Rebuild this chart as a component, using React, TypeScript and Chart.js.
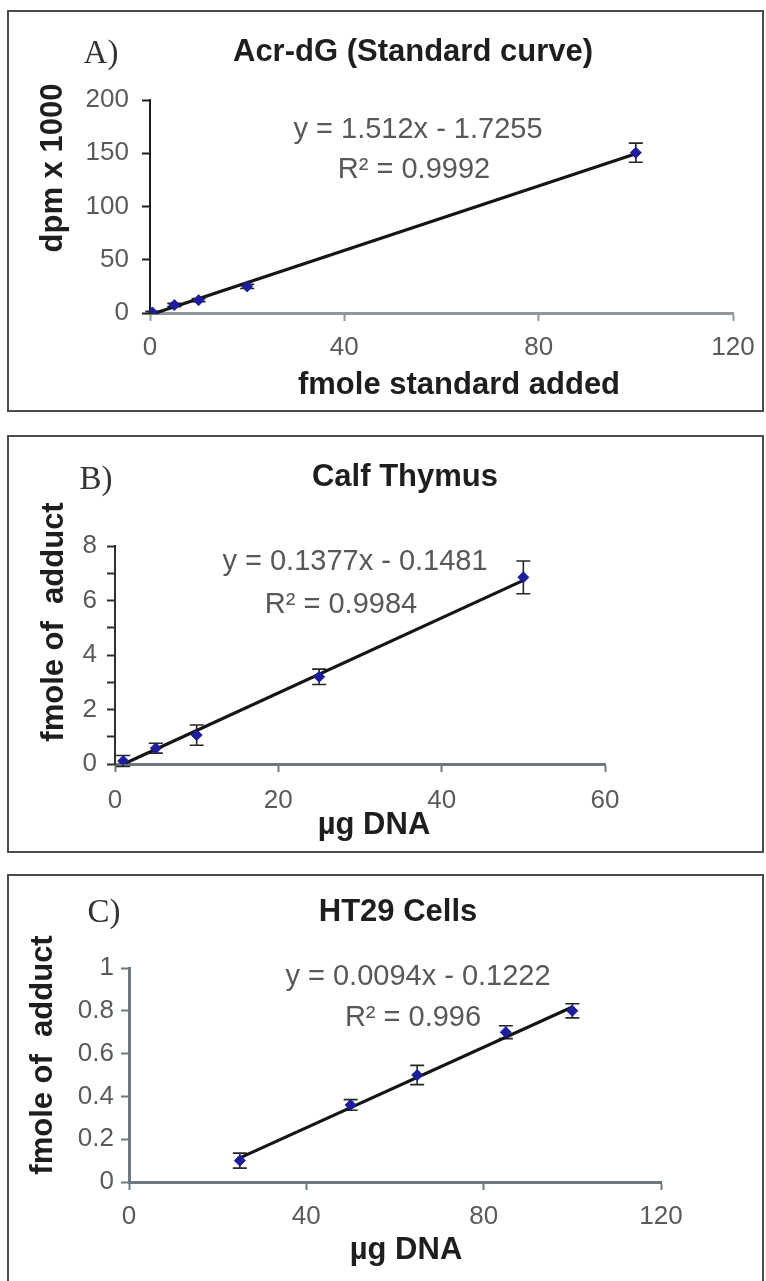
import React, { useEffect, useRef } from "react";
import { Chart, registerables } from "chart.js";
Chart.register(...registerables);

// ---------- Panel A ----------
const A_LETTER = "A)";
const A_TITLE = "Acr-dG (Standard curve)";
const A_X_TITLE = "fmole standard added";
const A_Y_TITLE = "dpm x 1000";
const A_X = [0.5, 5, 10, 20, 100];
const A_Y = [0.5, 7.5, 12, 25, 150.5];
const A_ERR = [1, 1.5, 1.5, 2, 9];
const A_SLOPE = 1.512;
const A_INTERCEPT = -1.7255;
const A_EQ = "y = 1.512x - 1.7255";
const A_R2 = "R² = 0.9992";
const A_X_TICKS = [0, 40, 80, 120];
const A_Y_TICKS = [0, 50, 100, 150, 200];
const A_Y_LABELS = [0, 50, 100, 150, 200];

// ---------- Panel B ----------
const B_LETTER = "B)";
const B_TITLE = "Calf Thymus";
const B_X_TITLE = "µg DNA";
const B_Y_TITLE = "fmole of  adduct";
const B_X = [1, 5, 10, 25, 50];
const B_Y = [0.11, 0.58, 1.06, 3.2, 6.85];
const B_ERR = [0.2, 0.18, 0.37, 0.28, 0.6];
const B_SLOPE = 0.1377;
const B_INTERCEPT = -0.1481;
const B_EQ = "y = 0.1377x - 0.1481";
const B_R2 = "R² = 0.9984";
const B_X_TICKS = [0, 20, 40, 60];
const B_Y_TICKS = [0, 1, 2, 3, 4, 5, 6, 7, 8];
const B_Y_LABELS = [0, 2, 4, 6, 8];

// ---------- Panel C ----------
const C_LETTER = "C)";
const C_TITLE = "HT29 Cells";
const C_X_TITLE = "µg DNA";
const C_Y_TITLE = "fmole of  adduct";
const C_X = [25, 50, 65, 85, 100];
const C_Y = [0.1, 0.36, 0.5, 0.7, 0.8];
const C_ERR = [0.035, 0.025, 0.045, 0.03, 0.033];
const C_SLOPE = 0.0094;
const C_INTERCEPT = -0.1222;
const C_EQ = "y = 0.0094x - 0.1222";
const C_R2 = "R² = 0.996";
const C_X_TICKS = [0, 40, 80, 120];
const C_Y_TICKS = [0, 0.2, 0.4, 0.6, 0.8, 1];
const C_Y_LABELS = [0, 0.2, 0.4, 0.6, 0.8, 1];

const SANS = "'Liberation Sans', Arial, sans-serif";
const SERIF = "'Liberation Serif', 'Times New Roman', serif";
const W = 766;

type Txt = { t: string; x: number; y: number; font: string; color: string; rot?: boolean };

type PanelDef = {
  top: number;
  height: number;
  area: { left: number; right: number; top: number; bottom: number };
  xs: number[];
  ys: number[];
  errs: number[];
  slope: number;
  intercept: number;
  xTicks: number[];
  yTicks: number[];
  yLabels: number[];
  xTickPad: number;
  yTickPad: number;
  xColor: string;
  xWidth: number;
  yColor: string;
  yWidth: number;
  texts: Txt[];
  borderBottom: boolean;
};

const TITLE_FONT = `bold 31px ${SANS}`;
const AXIS_FONT = `bold 31px ${SANS}`;
const EQ_FONT = `29px ${SANS}`;
const LETTER_FONT = `33px ${SERIF}`;
const DARK = "#1e1e1e";
const EQ_COLOR = "#585858";

const PANELS: PanelDef[] = [
  {
    top: 10,
    height: 402,
    area: { left: 150, right: 733, top: 90, bottom: 303 },
    xs: A_X, ys: A_Y, errs: A_ERR, slope: A_SLOPE, intercept: A_INTERCEPT,
    xTicks: A_X_TICKS, yTicks: A_Y_TICKS, yLabels: A_Y_LABELS,
    xTickPad: 11, yTickPad: 13,
    xColor: "#8e979c", xWidth: 3, yColor: "#1e1e1e", yWidth: 2,
    texts: [
      { t: A_LETTER, x: 101, y: 44, font: LETTER_FONT, color: "#333" },
      { t: A_TITLE, x: 413, y: 42, font: TITLE_FONT, color: DARK },
      { t: A_EQ, x: 418, y: 120, font: EQ_FONT, color: EQ_COLOR },
      { t: A_R2, x: 414, y: 160, font: EQ_FONT, color: EQ_COLOR },
      { t: A_Y_TITLE, x: 53, y: 158, font: AXIS_FONT, color: DARK, rot: true },
      { t: A_X_TITLE, x: 459, y: 375, font: AXIS_FONT, color: DARK },
    ],
    borderBottom: true,
  },
  {
    top: 435,
    height: 418,
    area: { left: 115, right: 605, top: 111, bottom: 329 },
    xs: B_X, ys: B_Y, errs: B_ERR, slope: B_SLOPE, intercept: B_INTERCEPT,
    xTicks: B_X_TICKS, yTicks: B_Y_TICKS, yLabels: B_Y_LABELS,
    xTickPad: 13, yTickPad: 10,
    xColor: "#6f777c", xWidth: 3, yColor: "#2f2f2f", yWidth: 2,
    texts: [
      { t: B_LETTER, x: 96, y: 45, font: LETTER_FONT, color: "#333" },
      { t: B_TITLE, x: 405, y: 42, font: TITLE_FONT, color: DARK },
      { t: B_EQ, x: 355, y: 127, font: EQ_FONT, color: EQ_COLOR },
      { t: B_R2, x: 341, y: 170, font: EQ_FONT, color: EQ_COLOR },
      { t: B_Y_TITLE, x: 54, y: 187, font: AXIS_FONT, color: DARK, rot: true },
      { t: B_X_TITLE, x: 374, y: 390, font: AXIS_FONT, color: DARK },
    ],
    borderBottom: true,
  },
  {
    top: 874,
    height: 407,
    area: { left: 129, right: 661, top: 94, bottom: 308 },
    xs: C_X, ys: C_Y, errs: C_ERR, slope: C_SLOPE, intercept: C_INTERCEPT,
    xTicks: C_X_TICKS, yTicks: C_Y_TICKS, yLabels: C_Y_LABELS,
    xTickPad: 11, yTickPad: 7,
    xColor: "#6b7a82", xWidth: 3, yColor: "#6b7a82", yWidth: 3,
    texts: [
      { t: C_LETTER, x: 104, y: 39, font: LETTER_FONT, color: "#333" },
      { t: C_TITLE, x: 398, y: 38, font: TITLE_FONT, color: DARK },
      { t: C_EQ, x: 418, y: 103, font: EQ_FONT, color: EQ_COLOR },
      { t: C_R2, x: 413, y: 144, font: EQ_FONT, color: EQ_COLOR },
      { t: C_Y_TITLE, x: 43, y: 181, font: AXIS_FONT, color: DARK, rot: true },
      { t: C_X_TITLE, x: 406, y: 376, font: AXIS_FONT, color: DARK },
    ],
    borderBottom: false,
  },
];

const X_SCALE_H = 60;

function buildConfig(p: PanelDef): any {
  const lineXs = [p.xs[0], p.xs[p.xs.length - 1]];
  const trend = lineXs.map((x) => ({ x, y: p.slope * x + p.intercept }));
  const pts = p.xs.map((x, i) => ({ x, y: p.ys[i] }));

  const textPlugin = {
    id: "panelTexts",
    afterDraw(chart: any) {
      const ctx = chart.ctx;
      p.texts.forEach((tx) => {
        ctx.save();
        ctx.font = tx.font;
        ctx.fillStyle = tx.color;
        ctx.textAlign = "center";
        ctx.textBaseline = "middle";
        ctx.translate(tx.x, tx.y);
        if (tx.rot) ctx.rotate(-Math.PI / 2);
        ctx.fillText(tx.t, 0, 0);
        ctx.restore();
      });
    },
  };

  const errorPlugin = {
    id: "errorBars",
    beforeDatasetsDraw(chart: any) {
      const { ctx } = chart;
      const xs = chart.scales.x;
      const ysc = chart.scales.y;
      ctx.save();
      ctx.strokeStyle = "#262626";
      ctx.lineWidth = 1.6;
      p.xs.forEach((xv, i) => {
        const px = xs.getPixelForValue(xv);
        const t = ysc.getPixelForValue(p.ys[i] + p.errs[i]);
        const b = ysc.getPixelForValue(p.ys[i] - p.errs[i]);
        ctx.beginPath();
        ctx.moveTo(px, t);
        ctx.lineTo(px, b);
        ctx.moveTo(px - 7, t);
        ctx.lineTo(px + 7, t);
        ctx.moveTo(px - 7, b);
        ctx.lineTo(px + 7, b);
        ctx.stroke();
      });
      ctx.restore();
    },
  };

  const tickFont = { family: SANS, size: 26 };

  return {
    type: "scatter",
    data: {
      datasets: [
        {
          data: pts,
          pointStyle: "rectRot",
          pointRadius: 5.5,
          backgroundColor: "#1d1d9e",
          borderColor: "#1d1d9e",
          borderWidth: 1,
          showLine: false,
          order: 1,
        },
        {
          data: trend,
          showLine: true,
          borderColor: "#151515",
          borderWidth: 3.2,
          pointRadius: 0,
          order: 2,
        },
      ],
    },
    options: {
      animation: false,
      responsive: false,
      maintainAspectRatio: false,
      devicePixelRatio: 1,
      layout: {
        padding: {
          left: 0,
          top: p.area.top,
          right: W - p.area.right,
          bottom: p.height - p.area.bottom - X_SCALE_H,
        },
      },
      plugins: {
        legend: { display: false },
        tooltip: { enabled: false },
        title: { display: false },
      },
      scales: {
        x: {
          type: "linear",
          min: p.xTicks[0],
          max: p.xTicks[p.xTicks.length - 1],
          afterBuildTicks: (s: any) => {
            s.ticks = p.xTicks.map((v) => ({ value: v }));
          },
          afterFit: (s: any) => {
            s.height = X_SCALE_H;
          },
          ticks: {
            font: tickFont,
            color: "#5a5a5a",
            padding: p.xTickPad,
            maxRotation: 0,
            autoSkip: false,
            callback: (v: any) => String(v),
          },
          grid: {
            drawOnChartArea: false,
            drawTicks: true,
            tickLength: 8,
            tickColor: p.xColor,
            tickWidth: 2,
            color: p.xColor,
          },
          border: { display: true, color: p.xColor, width: p.xWidth },
        },
        y: {
          type: "linear",
          min: p.yTicks[0],
          max: p.yTicks[p.yTicks.length - 1],
          afterBuildTicks: (s: any) => {
            s.ticks = p.yTicks.map((v) => ({ value: v }));
          },
          afterFit: (s: any) => {
            s.width = p.area.left;
          },
          ticks: {
            font: tickFont,
            color: "#5a5a5a",
            padding: p.yTickPad,
            autoSkip: false,
            callback: (v: any) => (p.yLabels.includes(v) ? String(v) : ""),
          },
          grid: {
            drawOnChartArea: false,
            drawTicks: true,
            tickLength: 8,
            tickColor: p.yColor,
            tickWidth: 2,
            color: p.yColor,
          },
          border: { display: true, color: p.yColor, width: p.yWidth },
        },
      },
    },
    plugins: [errorPlugin, textPlugin],
  };
}

function Panel({ p }: { p: PanelDef }) {
  const ref = useRef<HTMLCanvasElement>(null);
  useEffect(() => {
    const chart = new Chart(ref.current as HTMLCanvasElement, buildConfig(p));
    return () => chart.destroy();
  }, [p]);
  return (
    <div style={{ position: "absolute", left: 0, top: p.top, width: W, height: p.height }}>
      <div
        style={{
          position: "absolute",
          left: 7,
          top: 0,
          width: 757,
          height: p.height,
          boxSizing: "border-box",
          borderTop: "2px solid #4d4d4d",
          borderLeft: "2px solid #4d4d4d",
          borderRight: "2px solid #4d4d4d",
          borderBottom: p.borderBottom ? "2px solid #4d4d4d" : "none",
        }}
      />
      <canvas
        ref={ref}
        width={W}
        height={p.height}
        style={{ position: "absolute", left: 0, top: 0, width: W, height: p.height }}
      />
    </div>
  );
}

export default function App() {
  return (
    <div style={{ position: "absolute", left: 0, top: 0, width: W, height: 1281, background: "#fff", overflow: "hidden" }}>
      {PANELS.map((p, i) => (
        <Panel key={i} p={p} />
      ))}
    </div>
  );
}
